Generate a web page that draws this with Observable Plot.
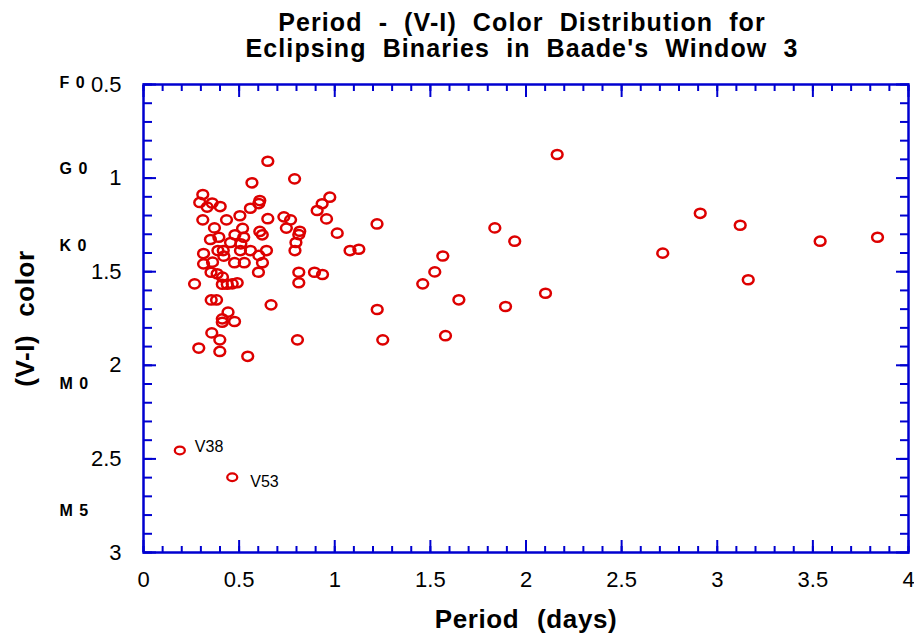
<!DOCTYPE html>
<html><head><meta charset="utf-8">
<script src="https://cdn.jsdelivr.net/npm/d3@7"></script>
<script src="https://cdn.jsdelivr.net/npm/@observablehq/plot@0.6"></script>
<style>
body{margin:0;background:#fff;}
#wrap{position:relative;width:914px;height:635px;overflow:hidden;}
#title{position:absolute;top:9px;left:65px;width:914px;text-align:center;font:bold 25px "Liberation Sans",Arial,sans-serif;line-height:26px;word-spacing:8px;letter-spacing:1.1px;color:#000;}
#chart{position:absolute;top:0;left:0;}
</style></head><body>
<div id="wrap"><div id="chart"></div><div id="title"></div></div>
<script>
// Orbital period (days)
const period = [0.650,0.790,0.567,0.310,0.294,0.333,0.359,0.401,0.608,0.603,
  0.559,0.504,0.310,0.434,0.650,0.734,0.769,0.747,0.817,0.812,
  0.797,0.792,0.371,0.350,0.394,0.518,0.478,0.524,0.455,0.509,
  0.507,0.608,0.621,0.559,0.643,0.314,0.389,0.417,0.420,0.361,
  0.314,0.476,0.527,0.603,0.622,0.601,0.353,0.385,0.413,0.267,
  0.412,0.438,0.464,0.490,0.812,0.812,0.894,0.936,0.354,0.382,
  0.667,0.442,0.412,0.412,0.476,0.357,0.399,0.289,0.399,0.545,
  0.805,0.974,0.934,0.908,0.957,1.013,1.080,1.126,1.221,1.222,
  1.251,1.460,1.523,1.565,1.579,1.649,1.837,1.941,1.893,2.102,
  2.163,2.715,2.911,3.120,3.162,3.538,3.838];
// (V-I) colour
const vi = [0.910,1.004,1.025,1.088,1.130,1.155,1.133,1.152,1.120,1.136,
  1.161,1.201,1.223,1.223,1.217,1.207,1.223,1.267,1.284,1.302,
  1.344,1.387,1.266,1.328,1.316,1.269,1.303,1.316,1.344,1.351,
  1.387,1.285,1.303,1.387,1.387,1.403,1.387,1.387,1.417,1.449,
  1.458,1.452,1.452,1.413,1.452,1.503,1.503,1.511,1.529,1.565,
  1.567,1.567,1.565,1.559,1.503,1.559,1.503,1.515,1.651,1.651,
  1.677,1.716,1.752,1.770,1.766,1.827,1.864,1.908,1.926,1.952,
  1.864,1.102,1.137,1.173,1.218,1.294,1.387,1.380,1.245,1.702,
  1.864,1.565,1.501,1.416,1.842,1.650,1.266,1.337,1.686,1.615,
  0.874,1.401,1.188,1.252,1.543,1.337,1.316];

// labelled stars
const namedStars = ["V38", "V53"];
const namedPeriod = [0.190, 0.464];
const namedVI = [2.455, 2.598];

// spectral types along the colour axis
const spectralType = ["F 0", "G 0", "K 0", "M 0", "M 5"];
const spectralVI = [0.49, 0.95, 1.36, 2.10, 2.78];

// tick labels
const xTicks = [0, 0.5, 1, 1.5, 2, 2.5, 3, 3.5, 4];
const yTicks = [0.5, 1, 1.5, 2, 2.5, 3];
const xMinorStep = 0.1, yMinorStep = 0.1;

const title = ["Period - (V-I) Color Distribution for", "Eclipsing Binaries in Baade's Window 3"];
const xLabel = "Period (days)";
const yLabel = "(V-I) color";

document.getElementById("title").innerHTML = title.map(t => `<div>${t}</div>`).join("");

const pts = period.map((p, i) => ({period: p, vi: vi[i]}));
const named = namedStars.map((n, i) => ({name: n, period: namedPeriod[i], vi: namedVI[i]}));
const spectral = spectralType.map((t, i) => ({t, v: spectralVI[i]}));
const xMinor = d3.range(0, Math.round(4 / xMinorStep) + 1).map(i => +(i * xMinorStep).toFixed(2));
const yMinor = d3.range(Math.round(0.5 / yMinorStep), Math.round(3 / yMinorStep) + 1).map(i => +(i * yMinorStep).toFixed(2));

function ellipse(rx, ry) {
  const k = 0.5523;
  return {draw(c) {
    c.moveTo(rx, 0);
    c.bezierCurveTo(rx, k * ry, k * rx, ry, 0, ry);
    c.bezierCurveTo(-k * rx, ry, -rx, k * ry, -rx, 0);
    c.bezierCurveTo(-rx, -k * ry, -k * rx, -ry, 0, -ry);
    c.bezierCurveTo(k * rx, -ry, rx, -k * ry, rx, 0);
    c.closePath();
  }};
}

const BLUE = "#0000d0", RED = "#dd0000";
const FONT = "'Liberation Sans', Arial, sans-serif";
const blank = () => "";
const tickOpts = {tickFormat: blank, stroke: BLUE, strokeWidth: 2, label: null};

const chart = Plot.plot({
  width: 914, height: 635,
  marginTop: 84, marginBottom: 83, marginLeft: 143, marginRight: 6,
  style: {fontFamily: FONT, background: "#fff", color: "#000"},
  x: {domain: [0, 4], axis: null},
  y: {domain: [0.5, 3], reverse: true, axis: null},
  marks: [
    // inward ticks on all sides
    Plot.axisX(xMinor, {anchor: "bottom", tickSize: -6, ...tickOpts}),
    Plot.axisX(xTicks, {anchor: "bottom", tickSize: -12, ...tickOpts}),
    Plot.axisX(xMinor, {anchor: "top", tickSize: -6, ...tickOpts}),
    Plot.axisX(xTicks, {anchor: "top", tickSize: -12, ...tickOpts}),
    Plot.axisY(yMinor, {anchor: "left", tickSize: -9, ...tickOpts}),
    Plot.axisY(yTicks, {anchor: "left", tickSize: -13, ...tickOpts}),
    Plot.axisY(yMinor, {anchor: "right", tickSize: -9, ...tickOpts}),
    Plot.axisY(yTicks, {anchor: "right", tickSize: -13, ...tickOpts}),
    // tick labels
    Plot.axisX(xTicks, {anchor: "bottom", tickSize: 0, tickPadding: 19, tickFormat: d => String(d), fontSize: 22, label: null, color: "#000"}),
    Plot.axisY(yTicks, {anchor: "left", tickSize: 0, tickPadding: 22, tickFormat: d => String(d), fontSize: 22, label: null, color: "#000"}),
    Plot.frame({stroke: BLUE, strokeWidth: 2.5}),
    // axis titles
    Plot.text([xLabel], {frameAnchor: "bottom", lineAnchor: "middle", textAnchor: "middle", dy: 67, text: d => d, fontSize: 26, fontWeight: "bold", fill: "#000"}),
    Plot.text([yLabel], {frameAnchor: "left", lineAnchor: "middle", textAnchor: "middle", dx: -118, rotate: -90, text: d => d, fontSize: 26, fontWeight: "bold", fill: "#000"}),
    // spectral types
    Plot.text(spectral, {y: "v", text: "t", frameAnchor: "left", textAnchor: "start", dx: -84, fontSize: 16, fontWeight: "bold", fill: "#000"}),
    // data
    Plot.dot(pts, {x: "period", y: "vi", symbol: ellipse(5.4, 4.6), stroke: RED, strokeWidth: 2.5, fill: "none"}),
    Plot.dot(named, {x: "period", y: "vi", symbol: ellipse(5.0, 3.8), stroke: RED, strokeWidth: 2.3, fill: "none"}),
    Plot.text(named.slice(0, 1), {x: "period", y: "vi", text: "name", textAnchor: "start", dx: 15, dy: -4, fontSize: 16, fill: "#000"}),
    Plot.text(named.slice(1), {x: "period", y: "vi", text: "name", textAnchor: "start", dx: 18, dy: 5, fontSize: 16, fill: "#000"})
  ]
});

// text spacing tweaks
d3.select(chart).selectAll("text").each(function() {
  const t = this.textContent;
  if (spectralType.includes(t)) d3.select(this).attr("letter-spacing", 1);
  if (t === xLabel || t === yLabel) d3.select(this).attr("letter-spacing", 0.6).attr("word-spacing", 10);
});
document.getElementById("chart").appendChild(chart);
</script>
</body></html>
